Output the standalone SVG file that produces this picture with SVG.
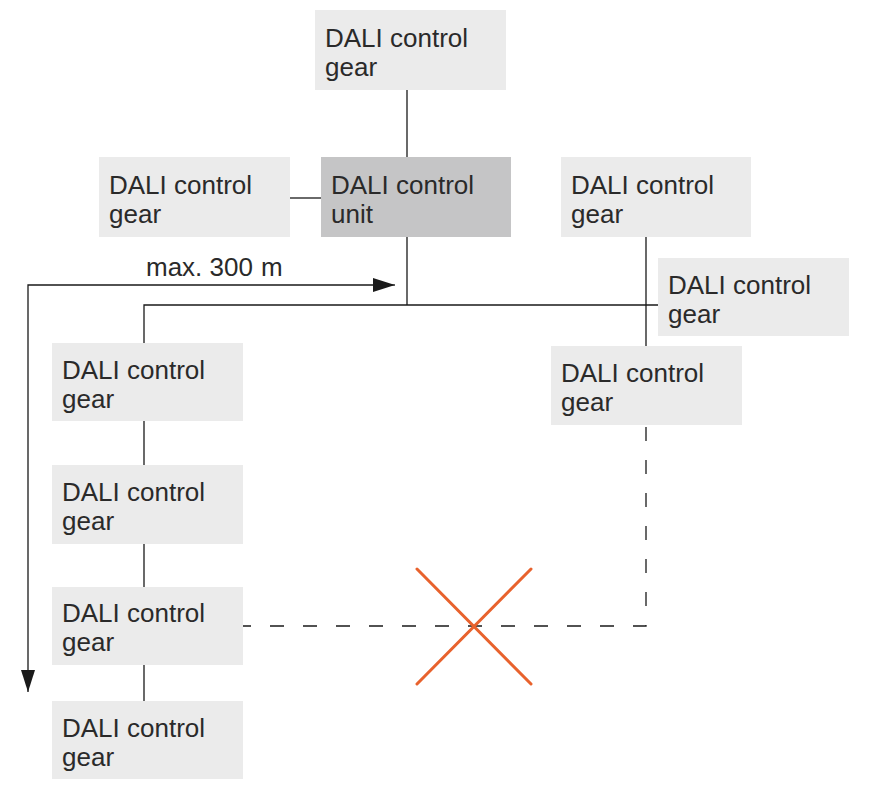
<svg xmlns="http://www.w3.org/2000/svg" width="871" height="796" viewBox="0 0 871 796">
<defs>
<style>
.box{fill:#ebebeb}
.unit{fill:#c5c5c6}
.t{font-family:"Liberation Sans",Arial,sans-serif;font-size:26px;fill:#2a2a2a}
.ln{stroke:#1a1a1a;stroke-width:1.3;fill:none}
.dash{stroke:#1a1a1a;stroke-width:1.3;fill:none;stroke-dasharray:14 19}
.x{stroke:#e8622d;stroke-width:3;stroke-linecap:round}
</style>
<marker id="ah" viewBox="0 0 22 14" refX="22" refY="7" markerWidth="22" markerHeight="14" markerUnits="userSpaceOnUse" orient="auto">
<path d="M0,0 L22,7 L0,14 Z" fill="#1a1a1a"/>
</marker>
</defs>
<rect width="871" height="796" fill="#fff"/>
<g id="connectors">
<line class="ln" x1="407" y1="90" x2="407" y2="157"/>
<line class="ln" x1="290" y1="198" x2="321" y2="198"/>
<line class="ln" x1="407" y1="237" x2="407" y2="305"/>
<polyline class="ln" points="144,343 144,305 658,305"/>
<line class="ln" x1="646" y1="237" x2="646" y2="346"/>
<line class="ln" x1="144" y1="421" x2="144" y2="465"/>
<line class="ln" x1="144" y1="544" x2="144" y2="587"/>
<line class="ln" x1="144" y1="665" x2="144" y2="701"/>
<polyline class="dash" points="646,427 646,626 243,626"/>
<polyline class="ln" points="28,670 28,285 373,285"/>
<line class="ln" x1="373" y1="285" x2="395" y2="285" marker-end="url(#ah)"/>
<line class="ln" x1="28" y1="670" x2="28" y2="692" marker-end="url(#ah)"/>
<text class="t" x="146" y="276">max. 300<tspan x="261">m</tspan></text>
<line class="x" x1="417" y1="569" x2="531" y2="684"/>
<line class="x" x1="531" y1="569" x2="417" y2="684"/>
</g>
<g id="gear-top"><rect class="box" x="315" y="10" width="191" height="80"/><text class="t" x="325" y="47">DALI control</text><text class="t" x="325" y="76">gear</text></g>
<g id="gear-left"><rect class="box" x="99" y="157" width="191" height="80"/><text class="t" x="109" y="194">DALI control</text><text class="t" x="109" y="223">gear</text></g>
<g id="control-unit"><rect class="unit" x="321" y="157" width="190" height="80"/><text class="t" x="331" y="194">DALI control</text><text class="t" x="331" y="223">unit</text></g>
<g id="gear-right"><rect class="box" x="561" y="157" width="190" height="80"/><text class="t" x="571" y="194">DALI control</text><text class="t" x="571" y="223">gear</text></g>
<g id="gear-far-right"><rect class="box" x="658" y="258" width="191" height="78"/><text class="t" x="668" y="294">DALI control</text><text class="t" x="668" y="323">gear</text></g>
<g id="gear-right-lower"><rect class="box" x="551" y="346" width="191" height="79"/><text class="t" x="561" y="382">DALI control</text><text class="t" x="561" y="411">gear</text></g>
<g id="gear-col-1"><rect class="box" x="52" y="343" width="191" height="78"/><text class="t" x="62" y="379">DALI control</text><text class="t" x="62" y="408">gear</text></g>
<g id="gear-col-2"><rect class="box" x="52" y="465" width="191" height="79"/><text class="t" x="62" y="501">DALI control</text><text class="t" x="62" y="530">gear</text></g>
<g id="gear-col-3"><rect class="box" x="52" y="587" width="191" height="78"/><text class="t" x="62" y="622">DALI control</text><text class="t" x="62" y="651">gear</text></g>
<g id="gear-col-4"><rect class="box" x="52" y="701" width="191" height="78"/><text class="t" x="62" y="737">DALI control</text><text class="t" x="62" y="766">gear</text></g>
</svg>
